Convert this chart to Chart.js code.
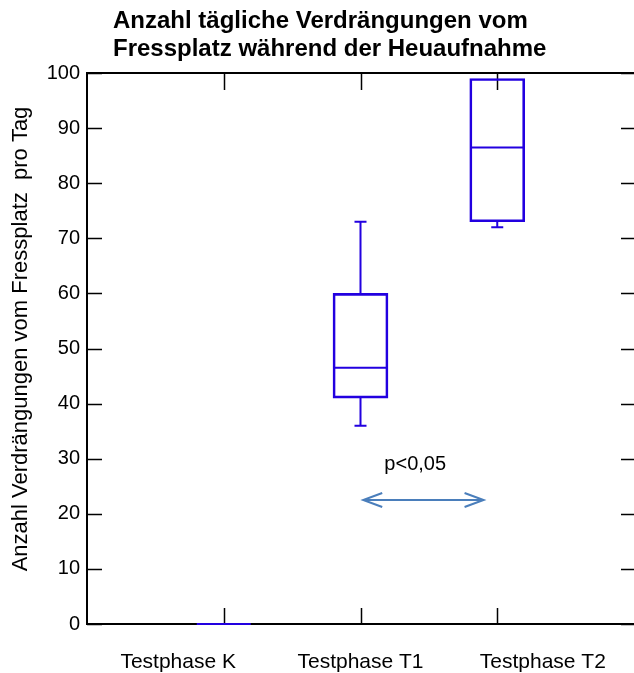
<!DOCTYPE html>
<html>
<head>
<meta charset="utf-8">
<script src="https://cdn.jsdelivr.net/npm/chart.js@4/dist/chart.umd.min.js"></script>
<style>
  html, body { margin: 0; padding: 0; background: #fff; }
  canvas { display: block; }
</style>
</head>
<body>
<canvas id="c" width="634" height="673"></canvas>
<script>
/* === Verdrängungen vom Fressplatz — box plot === */

const categories = ['Testphase K', 'Testphase T1', 'Testphase T2'];
const catPos = [1, 2, 3];
const whiskerMin = [0, 36, 72];
const q1 = [0, 41, 73];
const median = [0, 46.5, 86.5];
const q3 = [0, 60, 99];
const whiskerMax = [0, 73, 99];
const yTicks = [0, 10, 20, 30, 40, 50, 60, 70, 80, 90, 100];

// significance marker between T1 and T2
const sigFrom = [2.02, 22.5];
const sigTo = [2.9, 22.5];
const sigLabel = 'p<0,05';
const sigLabelAt = [2.40, 29];

const titleLines = ['Anzahl tägliche Verdrängungen vom', 'Fressplatz während der Heuaufnahme'];
const yTitle = 'Anzahl Verdrängungen vom Fressplatz  pro Tag';

const FONT = '"Liberation Sans", Arial, sans-serif';
const BOX_BLUE = '#2200e0';
const ARROW_BLUE = '#4a7ebb';

// ── Frame, inward ticks (behind the boxes), titles ──
const framePlugin = {
    id: 'frame',
    beforeDatasetsDraw(chart) {
        const { ctx, chartArea: a, scales: { x, y } } = chart;
        ctx.save();
        ctx.strokeStyle = '#000';
        ctx.lineWidth = 2;
        ctx.beginPath();
        ctx.moveTo(a.right, a.top); ctx.lineTo(a.left, a.top);
        ctx.lineTo(a.left, a.bottom); ctx.lineTo(a.right, a.bottom);
        ctx.stroke();
        ctx.lineWidth = 1.5;
        ctx.beginPath();
        for (const v of yTicks) {
            const py = Math.round(y.getPixelForValue(v)) + 0.5;
            ctx.moveTo(a.left, py); ctx.lineTo(a.left + 15, py);
            ctx.moveTo(a.right - 13, py); ctx.lineTo(a.right, py);
        }
        for (const v of catPos) {
            const px = Math.round(x.getPixelForValue(v)) + 0.5;
            ctx.moveTo(px, a.top); ctx.lineTo(px, a.top + 17);
            ctx.moveTo(px, a.bottom); ctx.lineTo(px, a.bottom - 16);
        }
        ctx.stroke();
        ctx.restore();
    },
    afterDraw(chart) {
        const { ctx } = chart;
        ctx.save();
        ctx.fillStyle = '#000';
        ctx.font = `bold 24px ${FONT}`;
        ctx.textBaseline = 'middle';
        ctx.textAlign = 'left';
        titleLines.forEach((t, i) => ctx.fillText(t, 113, 21 + i * 28));
        // y axis title
        ctx.font = `22px ${FONT}`;
        ctx.textAlign = 'center';
        ctx.translate(21, 339);
        ctx.rotate(-Math.PI / 2);
        ctx.fillText(yTitle, 0, 0);
        ctx.restore();
    }
};

// ── Whiskers, medians, significance arrow ──
const boxPlugin = {
    id: 'boxextras',
    afterDatasetsDraw(chart) {
        const { ctx, scales: { x, y } } = chart;
        const half = 27, cap = 6;
        ctx.save();
        ctx.strokeStyle = BOX_BLUE;
        ctx.lineWidth = 2;
        catPos.forEach((c, i) => {
            const px = x.getPixelForValue(c);
            ctx.beginPath();
            if (whiskerMax[i] > q3[i]) {
                ctx.moveTo(px, y.getPixelForValue(q3[i])); ctx.lineTo(px, y.getPixelForValue(whiskerMax[i]));
                ctx.moveTo(px - cap, y.getPixelForValue(whiskerMax[i])); ctx.lineTo(px + cap, y.getPixelForValue(whiskerMax[i]));
            }
            if (whiskerMin[i] < q1[i]) {
                ctx.moveTo(px, y.getPixelForValue(q1[i])); ctx.lineTo(px, y.getPixelForValue(whiskerMin[i]));
                ctx.moveTo(px - cap, y.getPixelForValue(whiskerMin[i])); ctx.lineTo(px + cap, y.getPixelForValue(whiskerMin[i]));
            }
            const my = y.getPixelForValue(median[i]);
            ctx.moveTo(px - half, my); ctx.lineTo(px + half, my);
            ctx.stroke();
        });

        // double arrow
        const x0 = x.getPixelForValue(sigFrom[0]), y0 = y.getPixelForValue(sigFrom[1]);
        const x1 = x.getPixelForValue(sigTo[0]), y1 = y.getPixelForValue(sigTo[1]);
        ctx.strokeStyle = ARROW_BLUE;
        ctx.lineWidth = 2;
        ctx.beginPath();
        ctx.moveTo(x0, y0); ctx.lineTo(x1, y1);
        ctx.moveTo(x0 + 19, y0 - 7); ctx.lineTo(x0, y0); ctx.lineTo(x0 + 19, y0 + 7);
        ctx.moveTo(x1 - 19, y1 - 7); ctx.lineTo(x1, y1); ctx.lineTo(x1 - 19, y1 + 7);
        ctx.stroke();

        ctx.fillStyle = '#000';
        ctx.font = `20px ${FONT}`;
        ctx.textAlign = 'center';
        ctx.textBaseline = 'middle';
        ctx.fillText(sigLabel, x.getPixelForValue(sigLabelAt[0]), y.getPixelForValue(sigLabelAt[1]));
        ctx.restore();
    }
};

new Chart(document.getElementById('c'), {
    type: 'bar',
    data: {
        labels: categories,
        datasets: [{
            label: 'IQR',
            xAxisID: 'x',
            data: catPos.map((c, i) => ({ x: c, y: [q1[i], q3[i]] })),
            backgroundColor: 'rgba(0,0,0,0)',
            borderColor: BOX_BLUE,
            borderWidth: 2,
            borderSkipped: false,
            barThickness: 55,
        }]
    },
    options: {
        responsive: false, animation: false, devicePixelRatio: 1,
        layout: { padding: { left: 0, top: 73, right: 0, bottom: 0 } },
        plugins: { legend: { display: false }, tooltip: { enabled: false }, title: { display: false } },
        scales: {
            // value axis for the boxes (its labels come from xl)
            x: {
                type: 'linear', min: 0, max: 4, offset: false, display: false,
                afterBuildTicks: s => { s.ticks = catPos.map(v => ({ value: v })); }
            },
            // category labels, spread across the plot as in the original
            xl: {
                type: 'category', position: 'bottom', offset: true,
                afterFit: s => { s.height = 49; },
                ticks: { color: '#000', font: { family: FONT, size: 21 }, padding: 26, maxRotation: 0, autoSkip: false },
                grid: { display: false, drawTicks: false },
                border: { display: false }
            },
            y: {
                min: 0, max: 100,
                afterBuildTicks: s => { s.ticks = yTicks.map(v => ({ value: v })); },
                afterFit: s => { s.width = 87; },
                ticks: { color: '#000', font: { family: FONT, size: 20 }, padding: 7 },
                grid: { display: false, drawTicks: false },
                border: { display: false }
            }
        }
    },
    plugins: [framePlugin, boxPlugin]
});
</script>
</body>
</html>
